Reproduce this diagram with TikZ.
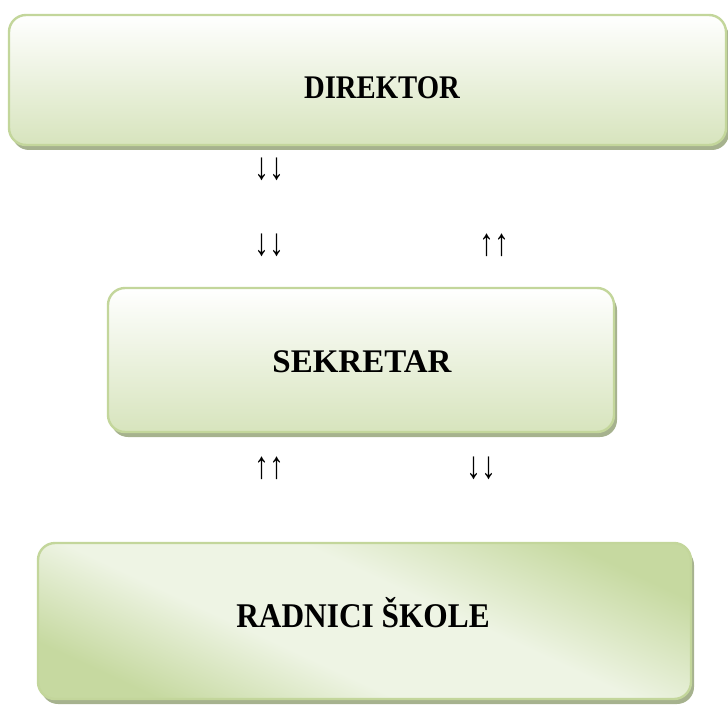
\documentclass[tikz,border=0pt]{standalone}
\usepackage{fontspec}
\setmainfont{Liberation Serif}
\usetikzlibrary{shadows}
\definecolor{bord}{HTML}{C3D69B}
\definecolor{shad}{HTML}{A6B28E}
\definecolor{fillb}{HTML}{D7E4BD}
\definecolor{fillc}{HTML}{C6D9A0}
\definecolor{filll}{HTML}{EEF4E4}
\pgfdeclareverticalshading{radsh}{100bp}{color(0bp)=(fillc); color(25bp)=(fillc); color(41bp)=(filll); color(57bp)=(filll); color(75bp)=(fillc); color(100bp)=(fillc)}
\begin{document}
\begin{tikzpicture}[x=1pt,y=-1pt,
  boxbase/.style={draw=bord, line width=2.4pt, rounded corners=17pt, inner sep=0pt,
    drop shadow={shadow xshift=3pt, shadow yshift=-5pt, fill=shad, opacity=1}},
  boxv/.style={boxbase, top color=white, bottom color=fillb},
  boxd/.style={boxbase, shading=radsh, shading angle=-25},
  lbl/.style={font=\bfseries\fontsize{33}{38}\selectfont, inner sep=0pt},
  arr/.style={font=\fontsize{30}{34}\selectfont, inner sep=0pt}]
\useasboundingbox (0,0) rectangle (728,706);
\node[boxv, minimum width=717pt, minimum height=130pt] (dir) at (367.5,80) {};
\node[lbl] (tdir) at (382,88) {\scalebox{0.87}[1]{DIREKTOR}};
\node[boxv, minimum width=506pt, minimum height=144pt] (sek) at (361,360) {};
\node[lbl] (tsek) at (362,362) {SEKRETAR};
\node[boxd, minimum width=653pt, minimum height=156pt] (rad) at (364.5,621) {};
\node[lbl] (trad) at (363,613) {\scalebox{0.95}[1.05]{RADNICI ŠKOLE}};
\node[arr] (a1) at (269,169) {\scalebox{1}[1.28]{↓↓}};
\node[arr] (a2) at (269,245) {\scalebox{1}[1.28]{↓↓}};
\node[arr] (a3) at (494,245) {\scalebox{1}[1.28]{↑↑}};
\node[arr] (a4) at (269,468) {\scalebox{1}[1.28]{↑↑}};
\node[arr] (a5) at (481,468) {\scalebox{1}[1.28]{↓↓}};
\end{tikzpicture}
\end{document}
